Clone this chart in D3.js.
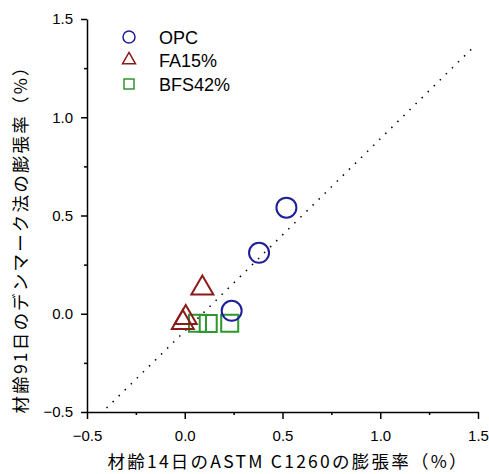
<!DOCTYPE html>
<html>
<head>
<meta charset="utf-8">
<script src="https://cdn.jsdelivr.net/npm/d3@7"></script>
<style>
  body { margin: 0; background: #fff; }
  .axis path, .axis line { stroke: #000; stroke-width: 1.5; }
  .axis text { font-family: "Liberation Sans", Arial, sans-serif; font-size: 15px; fill: #000; }
  .title { font-family: "Noto Sans CJK JP", sans-serif; font-size: 17.5px; fill: #000; }
  .legend text { font-family: "Liberation Sans", Arial, sans-serif; font-size: 18px; fill: #000; }
</style>
</head>
<body>
<svg id="chart"></svg>
<script>
// Series data: [ASTM C1260 at 14 days, Danish method at 91 days] (%)
var opc = [[0.52, 0.54], [0.38, 0.31], [0.24, 0.015]];
var fa15 = [[0.09, 0.13], [0.005, -0.02], [-0.01, -0.045]];
var bfs42 = [[0.065, -0.048], [0.12, -0.05], [0.23, -0.048]];

// Dotted reference line end points
var refLine = [[-0.40, -0.48], [1.48, 1.36]];

// Tick values
var majorTicks = [-0.5, 0.0, 0.5, 1.0, 1.5];
var minorTicks = [-0.25, 0.25, 0.75, 1.25];

var seriesNames = ["OPC", "FA15%", "BFS42%"];
var xTitle = "材齢14日のASTM C1260の膨張率（%）";
var yTitle = "材齢91日のデンマーク法の膨張率（%）";

// SVG size params
var margin = {top: 19, right: 11, bottom: 62, left: 87};
var totalW = 489, totalH = 474;
var width = totalW - margin.left - margin.right;
var height = totalH - margin.top - margin.bottom;

var svg = d3.select("#chart")
    .attr("width", totalW)
    .attr("height", totalH)
  .append("g")
    .attr("transform", "translate(" + margin.left + "," + margin.top + ")");

// Scales
var x = d3.scaleLinear().domain([-0.5, 1.5]).range([0, width]);
var y = d3.scaleLinear().domain([-0.5, 1.5]).range([height, 0]);

var fmt = d3.format(".1f");

// Major axes
svg.append("g")
    .attr("class", "axis")
    .attr("transform", "translate(0," + height + ")")
    .call(d3.axisBottom(x).tickValues(majorTicks).tickFormat(fmt)
      .tickSizeInner(7).tickSizeOuter(0).tickPadding(11));

svg.append("g")
    .attr("class", "axis")
    .call(d3.axisLeft(y).tickValues(majorTicks).tickFormat(fmt)
      .tickSizeInner(6).tickSizeOuter(0).tickPadding(8));

// Minor ticks
svg.append("g")
    .attr("class", "axis")
    .attr("transform", "translate(0," + height + ")")
    .call(d3.axisBottom(x).tickValues(minorTicks).tickFormat("").tickSizeInner(3).tickSizeOuter(0))
    .select(".domain").remove();

svg.append("g")
    .attr("class", "axis")
    .call(d3.axisLeft(y).tickValues(minorTicks).tickFormat("").tickSizeInner(3).tickSizeOuter(0))
    .select(".domain").remove();

// Minus sign like the original
svg.selectAll(".axis text").text(function() {
  return this.textContent.replace("-", "\u2212");
});

// Dotted line
svg.append("path")
    .datum(refLine)
    .attr("fill", "none")
    .attr("stroke", "#000")
    .attr("stroke-width", 1.5)
    .attr("stroke-dasharray", "1.5,7")
    .attr("d", d3.line().x(d => x(d[0])).y(d => y(d[1])));

// Marker styles
var colors = ["#1f1f99", "#8b1a1a", "#2e962e"];
var shapes = [d3.symbolCircle, d3.symbolTriangle, d3.symbolSquare];
var sizes = [Math.PI * 100, Math.sqrt(3) / 4 * 22 * 22, 17 * 17];
var legendSizes = [Math.PI * 36, Math.sqrt(3) / 4 * 13 * 13, 10 * 10];
var allSeries = [opc, fa15, bfs42];

// Draw points (squares first, circles on top)
[2, 1, 0].forEach(function(i) {
  svg.append("g")
    .selectAll("path")
    .data(allSeries[i])
    .enter().append("path")
      .attr("transform", d => "translate(" + x(d[0]) + "," + y(d[1]) + ")")
      .attr("d", d3.symbol().type(shapes[i]).size(sizes[i]))
      .attr("fill", "none")
      .attr("stroke", colors[i])
      .attr("stroke-width", 2);
});

// Legend
var legendY = [37, 60, 84];
var legend = svg.append("g")
    .attr("class", "legend")
    .attr("transform", "translate(" + (129 - margin.left) + "," + (-margin.top) + ")");

seriesNames.forEach(function(name, i) {
  legend.append("path")
      .attr("transform", "translate(0," + legendY[i] + ")")
      .attr("d", d3.symbol().type(shapes[i]).size(legendSizes[i]))
      .attr("fill", "none")
      .attr("stroke", colors[i])
      .attr("stroke-width", 1.5);
  legend.append("text")
      .attr("x", 30)
      .attr("y", legendY[i] + 6.5)
      .text(name);
});

// Axis titles
svg.append("text")
    .attr("class", "title")
    .attr("x", 287 - margin.left)
    .attr("y", 468 - margin.top)
    .attr("text-anchor", "middle")
    .attr("textLength", 359)
    .text(xTitle);

svg.append("text")
    .attr("class", "title")
    .attr("transform", "translate(" + (27 - margin.left) + "," + (236 - margin.top) + ") rotate(-90)")
    .attr("text-anchor", "middle")
    .attr("textLength", 355)
    .text(yTitle);
</script>
</body>
</html>
